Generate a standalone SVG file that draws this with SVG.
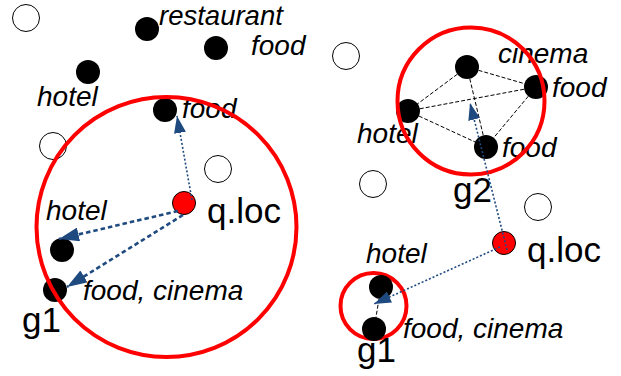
<svg xmlns="http://www.w3.org/2000/svg" width="621" height="376" viewBox="0 0 621 376">
  <style>
    .poi { fill: #000; }
    .empty { fill: #fff; stroke: #000; stroke-width: 1; }
    .query { fill: #ff0000; stroke: #000; stroke-width: 1; }
    .range { fill: none; stroke: #ff0000; stroke-width: 4; }
    .kw { font-family: "Liberation Sans", Arial, sans-serif; font-style: italic; font-size: 28px; fill: #000; }
    .big { font-family: "Liberation Sans", Arial, sans-serif; font-size: 35px; fill: #000; }
    .link { stroke: #000; stroke-width: 1; stroke-dasharray: 4 2; fill: none; }
    .thin { stroke: #1f4a80; stroke-width: 1.6; stroke-dasharray: 2 2; fill: none; marker-end: url(#head); }
    .thick { stroke: #1f4a80; stroke-width: 2.6; stroke-dasharray: 4.5 3; fill: none; marker-end: url(#head-lg); }
  </style>
  <defs>
    <marker id="head" viewBox="0 0 17 12" refX="17" refY="6" markerWidth="17" markerHeight="12" markerUnits="userSpaceOnUse" orient="auto">
      <path d="M0,0 L17,6 L0,12 Z" fill="#1f4a80"/>
    </marker>
    <marker id="head-lg" viewBox="0 0 20 14" refX="20" refY="7" markerWidth="20" markerHeight="14" markerUnits="userSpaceOnUse" orient="auto">
      <path d="M0,0 L20,7 L0,14 Z" fill="#1f4a80"/>
    </marker>
  </defs>

  <rect width="621" height="376" fill="#fff"/>

  <!-- objects without matching keywords -->
  <g id="empty-objects">
    <circle class="empty" cx="26" cy="18" r="13.5"/>
    <circle class="empty" cx="53" cy="146" r="13.5"/>
    <circle class="empty" cx="218" cy="169" r="13.5"/>
    <circle class="empty" cx="346" cy="56" r="13.5"/>
    <circle class="empty" cx="373" cy="184" r="13.5"/>
    <circle class="empty" cx="538" cy="207" r="13.5"/>
  </g>

  <!-- left scene: unrelated objects -->
  <g id="restaurant-top">
    <circle class="poi" cx="147" cy="29" r="12"/>
    <text class="kw" x="159" y="25" style="font-size:27.5px">restaurant</text>
  </g>
  <g id="food-top">
    <circle class="poi" cx="216" cy="48" r="12"/>
    <text class="kw" x="251" y="55">food</text>
  </g>
  <g id="hotel-top">
    <circle class="poi" cx="88" cy="72" r="12"/>
    <text class="kw" x="37" y="106">hotel</text>
  </g>
  <g id="food-left">
    <circle class="poi" cx="165" cy="110" r="12"/>
    <text class="kw" x="182" y="118">food</text>
  </g>

  <!-- left scene: group g1 -->
  <g id="left-g1">
    <circle class="poi" cx="62" cy="250" r="12"/>
    <text class="kw" x="46" y="220">hotel</text>
    <circle class="poi" cx="55" cy="290" r="12"/>
    <text class="kw" x="83" y="300">food, cinema</text>
    <text class="big" x="22" y="332">g1</text>
  </g>
  <g id="left-range">
    <circle class="range" cx="166.5" cy="227" r="130"/>
  </g>
  <g id="left-query">
    <circle class="query" cx="184" cy="203" r="11.5"/>
    <text class="big" x="207" y="223">q.loc</text>
  </g>

  <!-- right scene: group g2 -->
  <g id="g2-links">
    <line class="link" x1="467" y1="67" x2="536" y2="87"/>
    <line class="link" x1="467" y1="67" x2="408" y2="111"/>
    <line class="link" x1="467" y1="67" x2="486" y2="147"/>
    <line class="link" x1="408" y1="111" x2="536" y2="87"/>
    <line class="link" x1="408" y1="111" x2="486" y2="147"/>
    <line class="link" x1="536" y1="87" x2="486" y2="147"/>
  </g>
  <g id="g2-cinema">
    <circle class="poi" cx="467" cy="67" r="12"/>
    <text class="kw" x="498" y="63">cinema</text>
  </g>
  <g id="g2-food-right">
    <circle class="poi" cx="536" cy="87" r="12"/>
    <text class="kw" x="552" y="97">food</text>
  </g>
  <g id="g2-hotel">
    <circle class="poi" cx="408" cy="111" r="12"/>
    <text class="kw" x="357" y="143">hotel</text>
  </g>
  <g id="g2-food-bottom">
    <circle class="poi" cx="486" cy="147" r="12"/>
    <text class="kw" x="502" y="157">food</text>
  </g>
  <g id="g2-range">
    <circle class="range" cx="471" cy="101" r="73.5"/>
    <text class="big" x="453" y="202">g2</text>
  </g>

  <!-- right scene: group g1 -->
  <g id="right-g1">
    <circle class="range" cx="373.5" cy="306" r="33"/>
    <line class="link" x1="381" y1="287" x2="374" y2="329"/>
    <circle class="poi" cx="381" cy="287" r="12"/>
    <text class="kw" x="366" y="263">hotel</text>
    <circle class="poi" cx="374" cy="329" r="12"/>
    <text class="kw" x="403" y="338">food, cinema</text>
    <text class="big" x="357" y="362">g1</text>
  </g>
  <g id="right-query">
    <circle class="query" cx="504" cy="243" r="11.5"/>
    <text class="big" x="527" y="262">q.loc</text>
  </g>

  <!-- distance connectors from the query location -->
  <g id="connectors">
    <line class="thin" x1="192" y1="200" x2="177" y2="116"/>
    <line class="thick" x1="178" y1="211" x2="59" y2="239"/>
    <line class="thick" x1="183" y1="215" x2="67" y2="287"/>
    <line class="thin" x1="507" y1="250" x2="470" y2="103"/>
    <line class="thin" x1="500" y1="247" x2="374" y2="304"/>
  </g>
</svg>
